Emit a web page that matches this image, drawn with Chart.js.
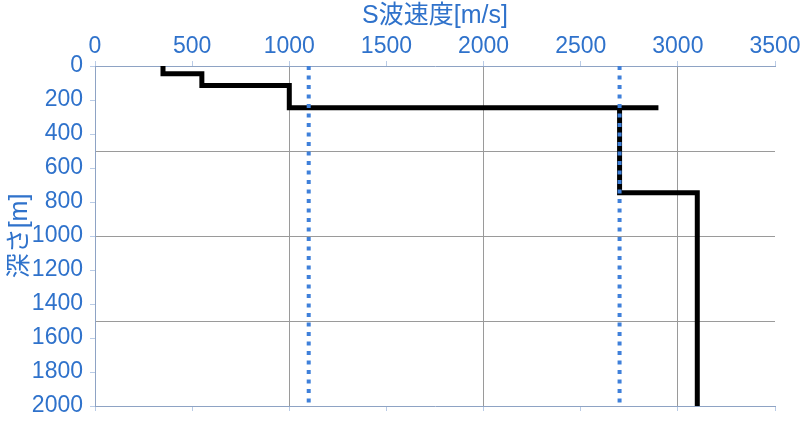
<!DOCTYPE html>
<html>
<head>
<meta charset="utf-8">
<script src="https://cdn.jsdelivr.net/npm/chart.js@4/dist/chart.umd.min.js"></script>
<style>
  html, body { margin: 0; padding: 0; background: #fff; }
  #wrap { width: 809px; height: 423px; }
</style>
</head>
<body>
<div id="wrap"><canvas id="chart" width="809" height="423"></canvas></div>
<script>
// S-wave velocity profile (step line)
const profileVs = [350, 350, 550, 550, 1000, 1000, 2900, 2700, 2700, 3100, 3100];
const profileDepth = [0, 45, 45, 115, 115, 245, 245, 245, 745, 745, 2000];

// dotted reference lines
const refVs = [1100, 2700];
const refDepth = [0, 2000];

const xTitle = 'S波速度[m/s]';
const yTitle = '深さ[m]';

const textBlue = '#2f72cb';
const dotBlue = '#3f80da';
const axisBlue = '#8ea3c4';
const gridGray = '#9a9a9a';
const fontFamily = '"Liberation Sans", Arial, "Noto Sans CJK JP", sans-serif';

function toPoints(xs, ys) {
    return xs.map((x, i) => ({ x: x, y: ys[i] }));
}

const datasets = [];
refVs.forEach(v => {
    datasets.push({
        data: toPoints([v, v], refDepth),
        showLine: true,
        borderColor: dotBlue,
        borderWidth: 4,
        borderDash: [4, 5.5],
        borderCapStyle: 'butt',
        pointRadius: 0,
        fill: false
    });
});
datasets.push({
    data: toPoints(profileVs, profileDepth),
    showLine: true,
    borderColor: '#000',
    borderWidth: 5,
    borderJoinStyle: 'miter',
    borderCapStyle: 'butt',
    pointRadius: 0,
    fill: false
});

const plainNum = v => String(v);

new Chart(document.getElementById('chart'), {
    type: 'scatter',
    data: { datasets: datasets },
    options: {
        responsive: false,
        animation: false,
        layout: { padding: { left: 0, top: 0, right: 34, bottom: 17 } },
        plugins: { legend: { display: false }, tooltip: { enabled: false } },
        scales: {
            x: {
                type: 'linear',
                position: 'top',
                min: 0,
                max: 3500,
                ticks: { stepSize: 500, color: textBlue, padding: 1, callback: plainNum, font: { family: fontFamily, size: 23 } },
                grid: { drawOnChartArea: false, tickLength: 5, tickColor: '#b9cbe6' },
                border: { color: axisBlue, width: 1 },
                title: { display: true, text: xTitle, color: textBlue, padding: { top: 1, bottom: 0 }, font: { family: fontFamily, size: 25 } },
                afterFit: s => { s.height = 66; s.paddingLeft = 0; s.paddingRight = 0; }
            },
            x2: {
                type: 'linear',
                position: 'bottom',
                min: 0,
                max: 3500,
                ticks: { stepSize: 500, display: false },
                grid: {
                    tickLength: 5,
                    tickColor: '#b9cbe6',
                    color: ctx => (ctx.tick && ctx.tick.value > 0 && ctx.tick.value % 1000 === 0) ? gridGray : 'rgba(0,0,0,0)'
                },
                border: { color: axisBlue, width: 1 },
                afterFit: s => { s.height = 0; }
            },
            y: {
                type: 'linear',
                position: 'left',
                reverse: true,
                min: 0,
                max: 2000,
                ticks: { stepSize: 200, color: textBlue, padding: 7, callback: plainNum, font: { family: fontFamily, size: 23 } },
                grid: { drawOnChartArea: false, tickLength: 5, tickColor: '#b9cbe6' },
                border: { color: axisBlue, width: 1 },
                title: { display: true, text: yTitle, color: textBlue, padding: { top: 5, bottom: 0 }, font: { family: fontFamily, size: 25 } },
                afterFit: s => { s.width = 95; s.paddingTop = 0; s.paddingBottom = 0; }
            },
            y2: {
                type: 'linear',
                position: 'right',
                reverse: true,
                min: 0,
                max: 2000,
                ticks: { stepSize: 500, display: false },
                grid: {
                    drawTicks: false,
                    color: ctx => (ctx.tick && ctx.tick.value > 0 && ctx.tick.value < 2000) ? gridGray : 'rgba(0,0,0,0)'
                },
                border: { display: false },
                afterFit: s => { s.width = 0; }
            }
        }
    }
});
</script>
</body>
</html>
